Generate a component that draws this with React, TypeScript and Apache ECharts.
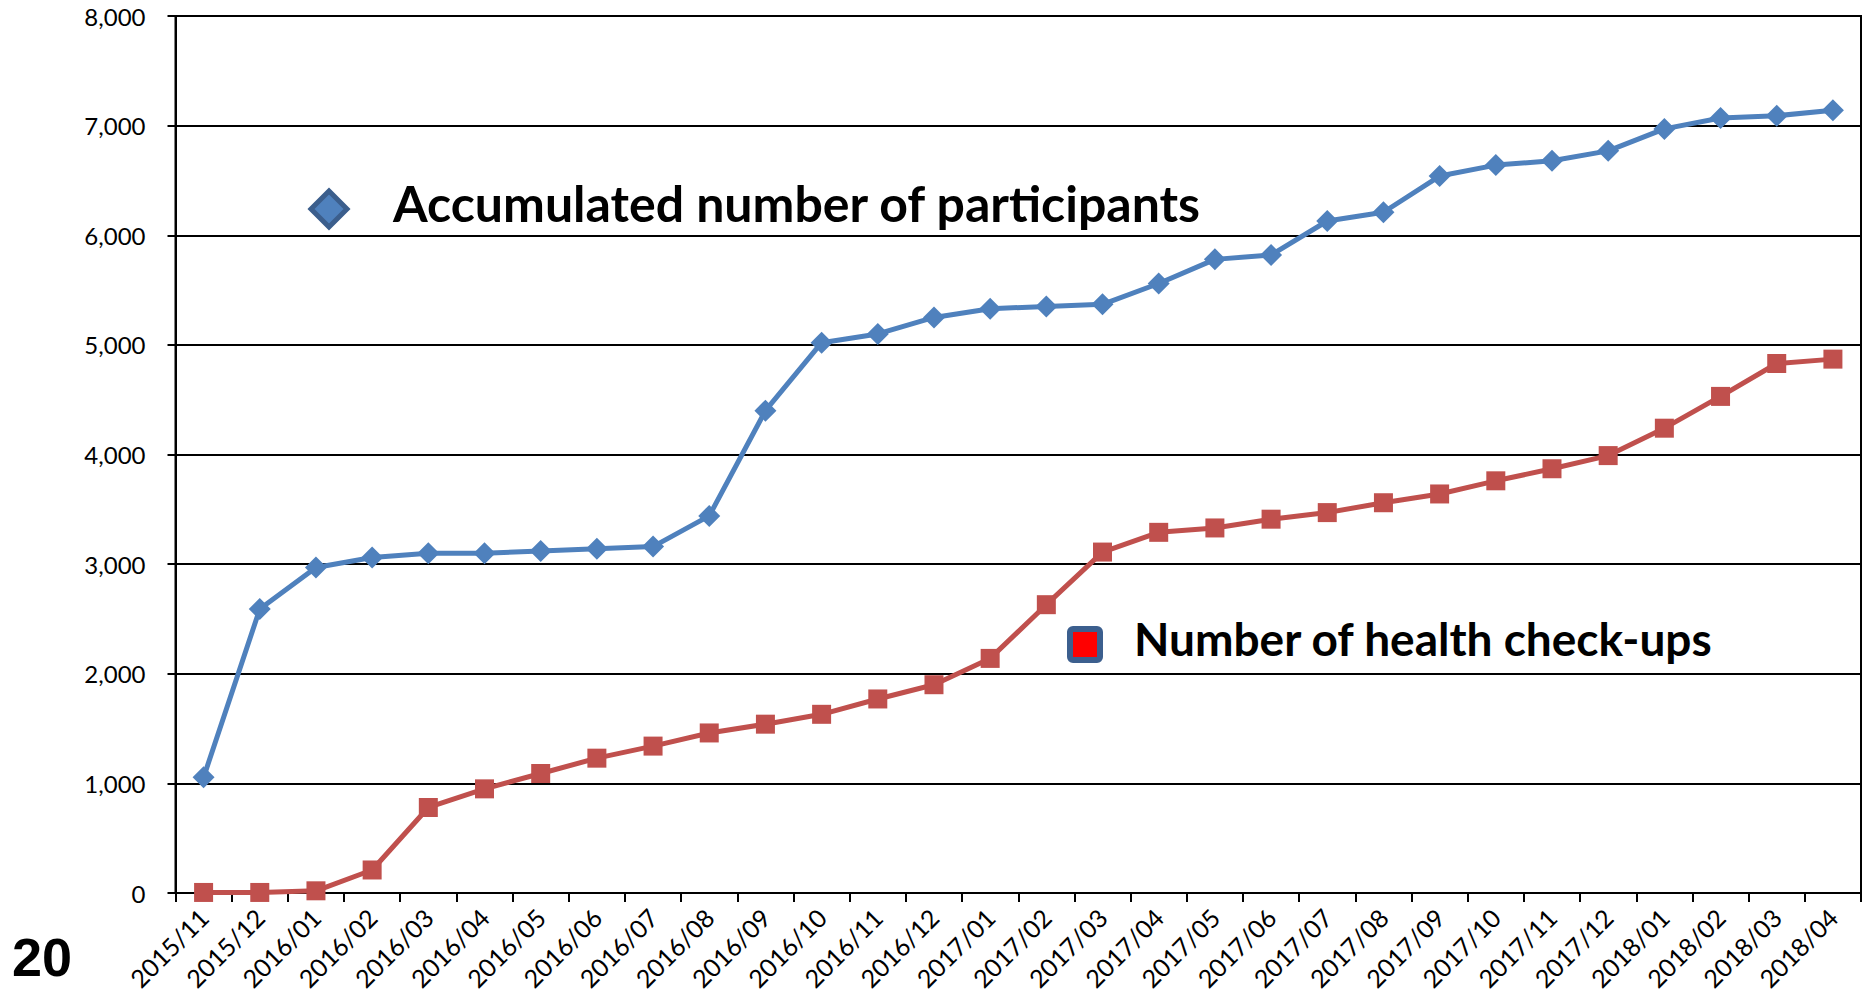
import React, { useEffect, useRef } from "react";
import * as echarts from "echarts";

const categories = [
  "2015/11", "2015/12",
  "2016/01", "2016/02", "2016/03", "2016/04", "2016/05", "2016/06",
  "2016/07", "2016/08", "2016/09", "2016/10", "2016/11", "2016/12",
  "2017/01", "2017/02", "2017/03", "2017/04", "2017/05", "2017/06",
  "2017/07", "2017/08", "2017/09", "2017/10", "2017/11", "2017/12",
  "2018/01", "2018/02", "2018/03", "2018/04",
];

const participants = [
  1055, 2590,
  2970, 3060, 3100, 3100, 3120, 3140,
  3160, 3440, 4400, 5020, 5100, 5250,
  5330, 5350, 5370, 5560, 5780, 5820,
  6130, 6210, 6540, 6640, 6680, 6770,
  6970, 7070, 7090, 7140,
];

const checkups = [
  5, 5,
  20, 210, 780, 950, 1090, 1230,
  1340, 1460, 1540, 1630, 1770, 1900,
  2140, 2630, 3110, 3290, 3330, 3410,
  3470, 3560, 3640, 3760, 3870, 3990,
  4240, 4530, 4830, 4870,
];

const seriesNames = ["Accumulated number of participants", "Number of health check-ups"];
const yTicks = { min: 0, max: 8000, interval: 1000 };
const pageLabel = "20";

export default function App() {
  const ref = useRef<HTMLDivElement>(null);

  useEffect(() => {
    if (!ref.current) return;
    const chart = echarts.init(ref.current, undefined, { renderer: "svg" });
    const labelFont = "Lato, 'Open Sans', sans-serif";
    chart.setOption({
      animation: false,
      backgroundColor: "#ffffff",
      grid: {
        left: 175.5,
        right: 6,
        top: 16,
        bottom: 102,
        show: true,
        borderColor: "#000",
        borderWidth: 2,
      },
      xAxis: {
        type: "category",
        data: categories,
        boundaryGap: true,
        axisLine: { show: true, lineStyle: { color: "#000", width: 2 } },
        axisTick: { show: true, length: 9, alignWithLabel: false, lineStyle: { color: "#000", width: 2 } },
        axisLabel: {
          interval: 0,
          rotate: 45,
          margin: 20,
          color: "#000",
          fontFamily: labelFont,
          fontSize: 25,
        },
        splitLine: { show: false },
      },
      yAxis: {
        type: "value",
        min: yTicks.min,
        max: yTicks.max,
        interval: yTicks.interval,
        axisLine: { show: true, lineStyle: { color: "#000", width: 2 } },
        axisTick: { show: true, length: 8, lineStyle: { color: "#000", width: 2 } },
        axisLabel: {
          margin: 30,
          color: "#000",
          fontFamily: labelFont,
          fontSize: 24,
          formatter: (v: number) => v.toLocaleString("en-US"),
        },
        splitLine: { show: true, lineStyle: { color: "#000", width: 2 } },
      },
      series: [
        {
          name: seriesNames[0],
          type: "line",
          data: participants,
          symbol: "diamond",
          symbolSize: 22,
          lineStyle: { color: "#4F81BD", width: 5 },
          itemStyle: { color: "#4F81BD" },
        },
        {
          name: seriesNames[1],
          type: "line",
          data: checkups,
          symbol: "rect",
          symbolSize: 19,
          lineStyle: { color: "#C0504D", width: 5 },
          itemStyle: { color: "#C0504D" },
        },
      ],
      graphic: [
        {
          type: "polygon",
          shape: { points: [[329, 191], [347, 209], [329, 227], [311, 209]] },
          style: { fill: "#4F81BD", stroke: "#3B5E8C", lineWidth: 5 },
        },
        {
          type: "text",
          left: 393,
          top: 178,
          style: {
            text: seriesNames[0],
            font: "bold 50px Lato, 'Open Sans', sans-serif",
            fill: "#000",
          },
        },
        {
          type: "rect",
          shape: { x: 1070, y: 629, width: 30, height: 31, r: 3 },
          style: { fill: "#FF0000", stroke: "#3C5F8E", lineWidth: 6 },
        },
        {
          type: "text",
          left: 1134,
          top: 615,
          style: {
            text: seriesNames[1],
            font: "bold 46px Lato, 'Open Sans', sans-serif",
            fill: "#000",
          },
        },
        {
          type: "text",
          left: 12,
          top: 930,
          style: {
            text: pageLabel,
            font: "bold 54px 'Liberation Sans', Arial, sans-serif",
            fill: "#000",
          },
        },
      ],
    });
    return () => chart.dispose();
  }, []);

  return (
    <div
      ref={ref}
      style={{ position: "fixed", left: 0, top: 0, width: 1867, height: 995 }}
    />
  );
}
